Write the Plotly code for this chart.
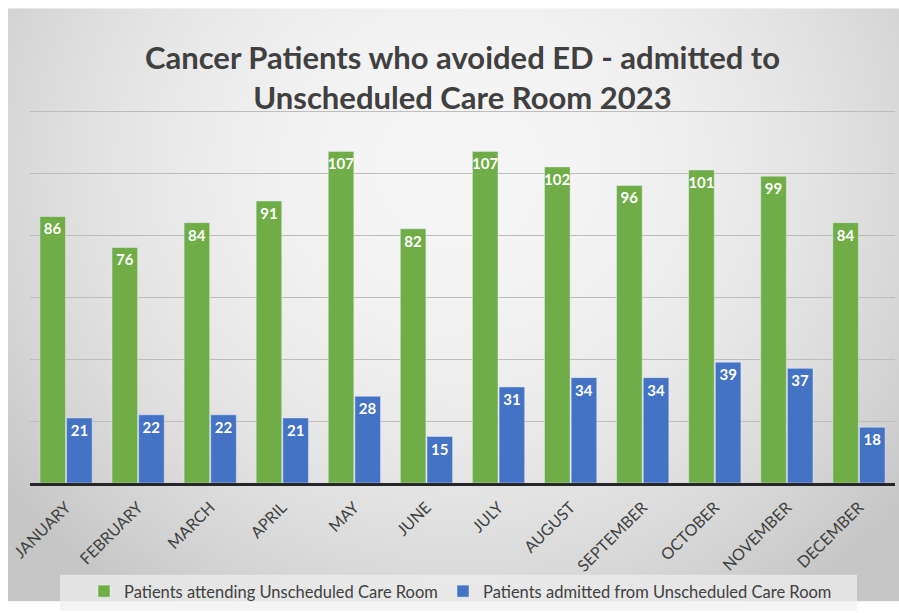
import base64
import struct
import zlib

import numpy as np
import plotly.graph_objects as go

months = ["JANUARY", "FEBRUARY", "MARCH", "APRIL", "MAY", "JUNE", "JULY",
          "AUGUST", "SEPTEMBER", "OCTOBER", "NOVEMBER", "DECEMBER"]
attending = [86, 76, 84, 91, 107, 82, 107, 102, 96, 101, 99, 84]
admitted = [21, 22, 22, 21, 28, 15, 31, 34, 34, 39, 37, 18]

W, H = 899, 613
ML, MR, MT, MB = 30, 4, 108, 121
PW, PH = W - ML - MR, H - MT - MB


def gradient_png():
    yy, xx = np.mgrid[0:H, 0:W].astype(float)
    r2 = ((xx - 460) / 520) ** 2 + ((yy - 170) / 500) ** 2
    v = np.clip(246 - 40 * r2, 198, 246)
    v[:6, :] = 255
    v[:, :8] = 255
    arr = v.astype(np.uint8)
    raw = b"".join(b"\x00" + arr[i].tobytes() for i in range(H))

    def chunk(tag, data):
        c = struct.pack(">I", len(data)) + tag + data
        return c + struct.pack(">I", zlib.crc32(tag + data) & 0xFFFFFFFF)

    png = b"\x89PNG\r\n\x1a\n"
    png += chunk(b"IHDR", struct.pack(">IIBBBBB", W, H, 8, 0, 0, 0, 0))
    png += chunk(b"IDAT", zlib.compress(raw, 9))
    png += chunk(b"IEND", b"")
    return "data:image/png;base64," + base64.b64encode(png).decode()


FONT = "Lato"
label_font = dict(color="white", size=15, family=FONT, weight="bold")

fig = go.Figure()
fig.add_bar(x=months, y=attending, name="Patients attending Unscheduled Care Room",
            marker_color="#70AD47", text=attending, textposition="inside",
            insidetextanchor="end", textangle=0, constraintext="none",
            textfont=label_font, legend="legend")
fig.add_bar(x=months, y=admitted, name="Patients admitted from Unscheduled Care Room",
            marker_color="#4472C4", text=admitted, textposition="inside",
            insidetextanchor="end", textangle=0, constraintext="none",
            textfont=label_font, legend="legend2")

legend_common = dict(orientation="h", xanchor="left",
                     y=-(603 - (H - MB)) / PH, yanchor="middle",
                     bgcolor="rgba(0,0,0,0)",
                     font=dict(family=FONT, size=16.5, color="#404040"))

fig.update_layout(
    width=W, height=H,
    margin=dict(l=ML, r=MR, t=MT, b=MB),
    paper_bgcolor="white",
    plot_bgcolor="rgba(0,0,0,0)",
    barmode="group", bargap=0.26, bargroupgap=0.04,
    title=dict(text="Cancer Patients who avoided ED - admitted to<br>Unscheduled Care Room 2023",
               x=0.5, xanchor="center", xref="paper", y=1 - 69 / H, yanchor="middle",
               font=dict(family=FONT, size=31, color="#404040", weight="bold")),
    xaxis=dict(tickangle=-45, tickfont=dict(family=FONT, size=16, color="#404040"),
               showline=True, linecolor="#262626", linewidth=2.5, showgrid=False,
               ticks="", ticklabelstandoff=6),
    yaxis=dict(range=[0, 121], dtick=20, showticklabels=False, gridcolor="#bdbdbd",
               gridwidth=1, zeroline=False, showline=False),
    legend=dict(x=(84 - ML) / PW, **legend_common),
    legend2=dict(x=(443 - ML) / PW, **legend_common),
    images=[dict(source=gradient_png(), xref="paper", yref="paper",
                 x=-ML / PW, y=1 + MT / PH, sizex=W / PW, sizey=H / PH,
                 xanchor="left", yanchor="top", sizing="stretch", layer="below")],
    shapes=[dict(type="rect", xref="paper", yref="paper",
                 x0=(60 - ML) / PW, x1=(857 - ML) / PW,
                 y0=-(H + 10 - (H - MB)) / PH, y1=-(586 - (H - MB)) / PH,
                 fillcolor="rgba(240,240,240,0.7)", line_width=0, layer="below")],
    showlegend=True,
)

fig.write_html("out.html")
